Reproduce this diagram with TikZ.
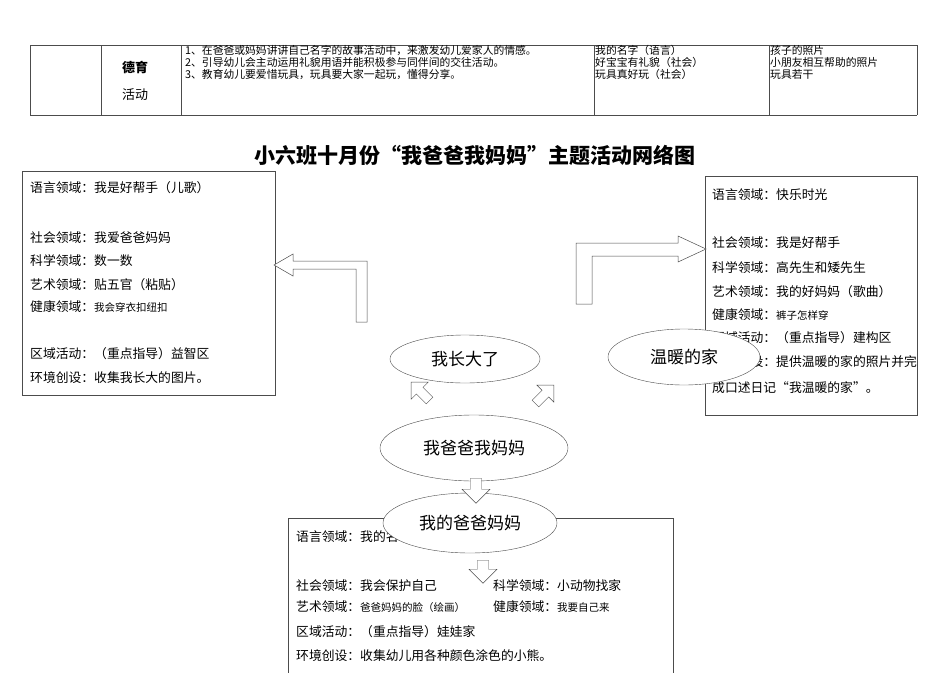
\documentclass[tikz,border=0pt]{standalone}
\usepackage{fontspec}
\setmainfont{Noto Sans CJK SC}
\usetikzlibrary{shapes.arrows,shapes.geometric}
\begin{document}
\begin{tikzpicture}[x=1pt,y=-1pt,
  t/.style={anchor=west,inner sep=0pt,font=\fontsize{12.8}{14}\selectfont},
  tab/.style={anchor=north west,inner sep=0pt,align=left,font=\fontsize{10.8}{12}\selectfont},
  box/.style={draw=black!70,line width=0.6pt},
  ell/.style={draw=black!70,fill=white,ellipse,inner sep=0pt,font=\fontsize{17}{19}\selectfont},
  blk/.style={draw=black!70,fill=white,line width=0.5pt},
  sarr/.style={single arrow,draw=black!70,fill=white,minimum height=26pt,minimum width=24pt,single arrow head extend=5pt,inner sep=3pt}]
\useasboundingbox (0,0) rectangle (950,672);
\newcommand\smtxt{\fontsize{10.5}{12}\selectfont}
% table
\draw[box] (30,45) -- (917,45) (30,115) -- (917,115);
\foreach \x in {30,101,181,594,769,917} \draw[box] (\x,45) -- (\x,115);
\node[inner sep=0pt,font=\fontsize{13}{15}\selectfont\bfseries] (de) at (135,67) {德育};
\node[inner sep=0pt,font=\fontsize{13}{15}\selectfont] (hd) at (135,95) {活动};
\node[tab] (c1) at (185,45) {1、在爸爸或妈妈讲讲自己名字的故事活动中，来激发幼儿爱家人的情感。\\2、引导幼儿会主动运用礼貌用语并能积极参与同伴间的交往活动。\\3、教育幼儿要爱惜玩具，玩具要大家一起玩，懂得分享。};
\node[tab] (c2) at (595,45) {我的名字（语言）\\好宝宝有礼貌（社会）\\玩具真好玩（社会）};
\node[tab] (c3) at (770,45) {孩子的照片\\小朋友相互帮助的照片\\玩具若干};
% title
\node[font=\fontsize{21}{24}\selectfont\bfseries] (title) at (475,155) {小六班十月份“我爸爸我妈妈”主题活动网络图};
% left box
\draw[box] (22,171) rectangle (275,395);
\node[t] (l1) at (30,188) {语言领域：我是好帮手（儿歌）};
\node[t] (l2) at (30,238) {社会领域：我爱爸爸妈妈};
\node[t] (l3) at (30,261) {科学领域：数一数};
\node[t] (l4) at (30,285) {艺术领域：贴五官（粘贴）};
\node[t] (l5) at (30,307) {健康领域：{\smtxt 我会穿衣扣纽扣}};
\node[t] (l6) at (30,354) {区域活动：（重点指导）益智区};
\node[t] (l7) at (30,378) {环境创设：收集我长大的图片。};
% right box
\draw[box] (705,176) rectangle (917,415);
\node[t] (r1) at (712,195) {语言领域：快乐时光};
\node[t] (r2) at (712,243) {社会领域：我是好帮手};
\node[t] (r3) at (712,268) {科学领域：高先生和矮先生};
\node[t] (r4) at (712,292) {艺术领域：我的好妈妈（歌曲）};
\node[t] (r5) at (712,315) {健康领域：{\smtxt 裤子怎样穿}};
\node[t] (r6) at (712,338) {区域活动：（重点指导）建构区};
\node[t] (r7) at (712,362) {环境创设：提供温暖的家的照片并完};
\node[t] (r8) at (712,388) {成口述日记“我温暖的家”。};
% bottom box
\draw[box] (288,690) -- (288,518) -- (673,518) -- (673,690);
\node[t] (b1) at (296,537) {语言领域：我的名字};
\node[t] (b2) at (296,586) {社会领域：我会保护自己};
\node[t] (b3) at (493,586) {科学领域：小动物找家};
\node[t] (b4) at (296,607) {艺术领域：{\smtxt 爸爸妈妈的脸（绘画）}};
\node[t] (b5) at (493,607) {健康领域：{\smtxt 我要自己来}};
\node[t] (b6) at (296,632) {区域活动：（重点指导）娃娃家};
\node[t] (b7) at (296,656) {环境创设：收集幼儿用各种颜色涂色的小熊。};
% block L arrows
\draw[blk] (274,265) -- (293,254) -- (293,261) -- (367,261) -- (367,322) -- (356,322) -- (356,269) -- (293,269) -- (293,276) -- cycle;
\draw[blk] (706,249) -- (678,236) -- (678,243) -- (576,243) -- (576,304) -- (592,304) -- (592,256) -- (678,256) -- (678,262) -- cycle;
% ellipses
\node[ell,minimum width=150pt,minimum height=48pt] (e1) at (465,359) {我长大了};
\node[ell,minimum width=152pt,minimum height=56pt] (e2) at (684,357) {温暖的家};
\node[ell,minimum width=188pt,minimum height=66pt] (e0) at (474,448) {我爸爸我妈妈};
\node[ell,minimum width=174pt,minimum height=60pt] (e3) at (470,523) {我的爸爸妈妈};
% small arrows
\node[sarr,rotate=135] (a1) at (422,393) {};
\node[sarr,rotate=45] (a2) at (543,396) {};
\node[sarr,rotate=-90,minimum height=25pt,minimum width=28pt] (a3) at (476,488) {};
\node[sarr,rotate=-90,minimum height=23pt,minimum width=28pt] (a4) at (483,569) {};
\end{tikzpicture}
\end{document}
